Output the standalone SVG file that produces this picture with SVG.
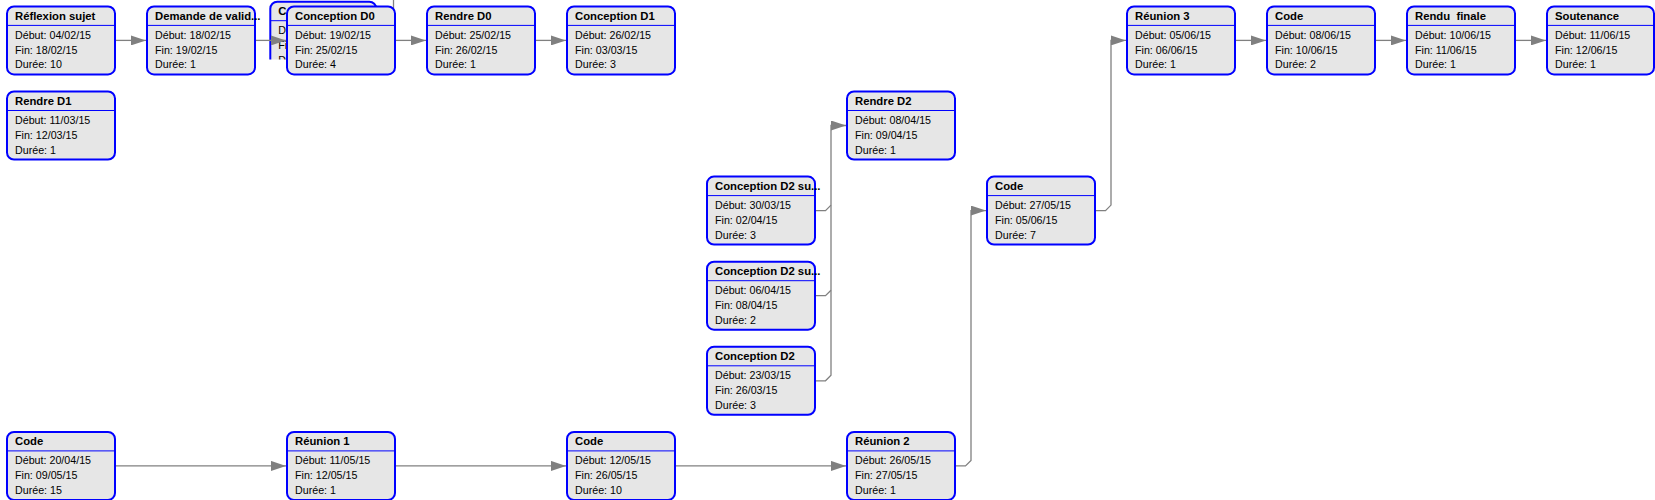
<svg xmlns="http://www.w3.org/2000/svg" width="1655" height="500" viewBox="0 0 1655 500">
<defs>
<style>
.box{fill:#e6e6e6;stroke:#0000ff;stroke-width:2}
.sep{stroke:#0000ff;stroke-width:1}
.t{font-family:"Liberation Sans",Arial,sans-serif;font-size:11.3px;font-weight:bold;fill:#000}
.b{font-family:"Liberation Sans",Arial,sans-serif;font-size:10.7px;fill:#000}
.c{fill:none;stroke:#808080;stroke-width:1.3}
.a{marker-end:url(#arr)}
</style>
<marker id="arr" markerUnits="userSpaceOnUse" markerWidth="15" markerHeight="10" refX="15" refY="5" orient="auto">
<path d="M0,0 L15,5 L0,10 z" fill="#808080"/>
</marker>
<clipPath id="hclip"><rect x="255" y="0" width="140" height="59.5"/></clipPath>
</defs>
<rect width="1655" height="500" fill="#ffffff"/>

<g id="node-hidden" clip-path="url(#hclip)">
<g transform="translate(269.3,0.7)">
<rect class="box" x="1" y="1" width="106" height="68" rx="7"/>
<line class="sep" x1="1" y1="20" x2="107" y2="20"/>
<text class="t" x="9" y="14.6">C</text>
<text class="b" x="9" y="33.4">D</text>
<text class="b" x="9" y="48.2">Fi</text>
<text class="b" x="9" y="63">D</text>
</g>
</g>

<g id="connectors">
<path class="c a" d="M116,40.4 H146"/>
<path class="c a" d="M256,40.4 H286"/>
<path class="c a" d="M396,40.4 H426"/>
<path class="c a" d="M536,40.4 H566"/>
<path class="c a" d="M1236,40.4 H1266"/>
<path class="c a" d="M1376,40.4 H1406"/>
<path class="c a" d="M1516,40.4 H1546"/>
<path class="c a" d="M116,465.9 H286"/>
<path class="c a" d="M396,465.9 H566"/>
<path class="c a" d="M676,465.9 H846"/>
<path class="c a" d="M956,465.9 H965.5 L971,460.4 V210.6 H986"/>
<path class="c a" d="M1096,210.6 H1105.5 L1111,205.1 V40.4 H1126"/>
<path class="c a" d="M816,380.8 H825.5 L831,375.3 V125.5 H846"/>
<path class="c" d="M816,210.6 H825.5 L831,205.1"/>
<path class="c" d="M816,295.7 H825.5 L831,290.2"/>
<path class="c" d="M393.5,0 V10"/>
</g>

<g id="n-reflexion" transform="translate(6,5.4)">
<rect class="box" x="1" y="1" width="108" height="68" rx="7"/>
<line class="sep" x1="1" y1="20" x2="109" y2="20"/>
<text class="t" x="9" y="14.6">Réflexion sujet</text>
<text class="b" x="9" y="33.4">Début: 04/02/15</text>
<text class="b" x="9" y="48.2">Fin: 18/02/15</text>
<text class="b" x="9" y="63">Durée: 10</text>
</g>
<g id="n-demande" transform="translate(146,5.4)">
<rect class="box" x="1" y="1" width="108" height="68" rx="7"/>
<line class="sep" x1="1" y1="20" x2="109" y2="20"/>
<text class="t" x="9" y="14.6">Demande de valid...</text>
<text class="b" x="9" y="33.4">Début: 18/02/15</text>
<text class="b" x="9" y="48.2">Fin: 19/02/15</text>
<text class="b" x="9" y="63">Durée: 1</text>
</g>
<g id="n-conception-d0" transform="translate(286,5.4)">
<rect class="box" x="1" y="1" width="108" height="68" rx="7"/>
<line class="sep" x1="1" y1="20" x2="109" y2="20"/>
<text class="t" x="9" y="14.6">Conception D0</text>
<text class="b" x="9" y="33.4">Début: 19/02/15</text>
<text class="b" x="9" y="48.2">Fin: 25/02/15</text>
<text class="b" x="9" y="63">Durée: 4</text>
</g>
<g id="n-rendre-d0" transform="translate(426,5.4)">
<rect class="box" x="1" y="1" width="108" height="68" rx="7"/>
<line class="sep" x1="1" y1="20" x2="109" y2="20"/>
<text class="t" x="9" y="14.6">Rendre D0</text>
<text class="b" x="9" y="33.4">Début: 25/02/15</text>
<text class="b" x="9" y="48.2">Fin: 26/02/15</text>
<text class="b" x="9" y="63">Durée: 1</text>
</g>
<g id="n-conception-d1" transform="translate(566,5.4)">
<rect class="box" x="1" y="1" width="108" height="68" rx="7"/>
<line class="sep" x1="1" y1="20" x2="109" y2="20"/>
<text class="t" x="9" y="14.6">Conception D1</text>
<text class="b" x="9" y="33.4">Début: 26/02/15</text>
<text class="b" x="9" y="48.2">Fin: 03/03/15</text>
<text class="b" x="9" y="63">Durée: 3</text>
</g>
<g id="n-reunion-3" transform="translate(1126,5.4)">
<rect class="box" x="1" y="1" width="108" height="68" rx="7"/>
<line class="sep" x1="1" y1="20" x2="109" y2="20"/>
<text class="t" x="9" y="14.6">Réunion 3</text>
<text class="b" x="9" y="33.4">Début: 05/06/15</text>
<text class="b" x="9" y="48.2">Fin: 06/06/15</text>
<text class="b" x="9" y="63">Durée: 1</text>
</g>
<g id="n-code-4" transform="translate(1266,5.4)">
<rect class="box" x="1" y="1" width="108" height="68" rx="7"/>
<line class="sep" x1="1" y1="20" x2="109" y2="20"/>
<text class="t" x="9" y="14.6">Code</text>
<text class="b" x="9" y="33.4">Début: 08/06/15</text>
<text class="b" x="9" y="48.2">Fin: 10/06/15</text>
<text class="b" x="9" y="63">Durée: 2</text>
</g>
<g id="n-rendu-finale" transform="translate(1406,5.4)">
<rect class="box" x="1" y="1" width="108" height="68" rx="7"/>
<line class="sep" x1="1" y1="20" x2="109" y2="20"/>
<text class="t" x="9" y="14.6" xml:space="preserve">Rendu  finale</text>
<text class="b" x="9" y="33.4">Début: 10/06/15</text>
<text class="b" x="9" y="48.2">Fin: 11/06/15</text>
<text class="b" x="9" y="63">Durée: 1</text>
</g>
<g id="n-soutenance" transform="translate(1546,5.4)">
<rect class="box" x="1" y="1" width="107" height="68" rx="7"/>
<line class="sep" x1="1" y1="20" x2="108" y2="20"/>
<text class="t" x="9" y="14.6">Soutenance</text>
<text class="b" x="9" y="33.4">Début: 11/06/15</text>
<text class="b" x="9" y="48.2">Fin: 12/06/15</text>
<text class="b" x="9" y="63">Durée: 1</text>
</g>

<g id="n-rendre-d1" transform="translate(6,90.5)">
<rect class="box" x="1" y="1" width="108" height="68" rx="7"/>
<line class="sep" x1="1" y1="20" x2="109" y2="20"/>
<text class="t" x="9" y="14.6">Rendre D1</text>
<text class="b" x="9" y="33.4">Début: 11/03/15</text>
<text class="b" x="9" y="48.2">Fin: 12/03/15</text>
<text class="b" x="9" y="63">Durée: 1</text>
</g>
<g id="n-rendre-d2" transform="translate(846,90.5)">
<rect class="box" x="1" y="1" width="108" height="68" rx="7"/>
<line class="sep" x1="1" y1="20" x2="109" y2="20"/>
<text class="t" x="9" y="14.6">Rendre D2</text>
<text class="b" x="9" y="33.4">Début: 08/04/15</text>
<text class="b" x="9" y="48.2">Fin: 09/04/15</text>
<text class="b" x="9" y="63">Durée: 1</text>
</g>

<g id="n-conception-d2-su-1" transform="translate(706,175.6)">
<rect class="box" x="1" y="1" width="108" height="68" rx="7"/>
<line class="sep" x1="1" y1="20" x2="109" y2="20"/>
<text class="t" x="9" y="14.6">Conception D2 su...</text>
<text class="b" x="9" y="33.4">Début: 30/03/15</text>
<text class="b" x="9" y="48.2">Fin: 02/04/15</text>
<text class="b" x="9" y="63">Durée: 3</text>
</g>
<g id="n-code-3" transform="translate(986,175.6)">
<rect class="box" x="1" y="1" width="108" height="68" rx="7"/>
<line class="sep" x1="1" y1="20" x2="109" y2="20"/>
<text class="t" x="9" y="14.6">Code</text>
<text class="b" x="9" y="33.4">Début: 27/05/15</text>
<text class="b" x="9" y="48.2">Fin: 05/06/15</text>
<text class="b" x="9" y="63">Durée: 7</text>
</g>

<g id="n-conception-d2-su-2" transform="translate(706,260.7)">
<rect class="box" x="1" y="1" width="108" height="68" rx="7"/>
<line class="sep" x1="1" y1="20" x2="109" y2="20"/>
<text class="t" x="9" y="14.6">Conception D2 su...</text>
<text class="b" x="9" y="33.4">Début: 06/04/15</text>
<text class="b" x="9" y="48.2">Fin: 08/04/15</text>
<text class="b" x="9" y="63">Durée: 2</text>
</g>

<g id="n-conception-d2" transform="translate(706,345.8)">
<rect class="box" x="1" y="1" width="108" height="68" rx="7"/>
<line class="sep" x1="1" y1="20" x2="109" y2="20"/>
<text class="t" x="9" y="14.6">Conception D2</text>
<text class="b" x="9" y="33.4">Début: 23/03/15</text>
<text class="b" x="9" y="48.2">Fin: 26/03/15</text>
<text class="b" x="9" y="63">Durée: 3</text>
</g>

<g id="n-code-1" transform="translate(6,430.9)">
<rect class="box" x="1" y="1" width="108" height="68" rx="7"/>
<line class="sep" x1="1" y1="20" x2="109" y2="20"/>
<text class="t" x="9" y="14.6">Code</text>
<text class="b" x="9" y="33.4">Début: 20/04/15</text>
<text class="b" x="9" y="48.2">Fin: 09/05/15</text>
<text class="b" x="9" y="63">Durée: 15</text>
</g>
<g id="n-reunion-1" transform="translate(286,430.9)">
<rect class="box" x="1" y="1" width="108" height="68" rx="7"/>
<line class="sep" x1="1" y1="20" x2="109" y2="20"/>
<text class="t" x="9" y="14.6">Réunion 1</text>
<text class="b" x="9" y="33.4">Début: 11/05/15</text>
<text class="b" x="9" y="48.2">Fin: 12/05/15</text>
<text class="b" x="9" y="63">Durée: 1</text>
</g>
<g id="n-code-2" transform="translate(566,430.9)">
<rect class="box" x="1" y="1" width="108" height="68" rx="7"/>
<line class="sep" x1="1" y1="20" x2="109" y2="20"/>
<text class="t" x="9" y="14.6">Code</text>
<text class="b" x="9" y="33.4">Début: 12/05/15</text>
<text class="b" x="9" y="48.2">Fin: 26/05/15</text>
<text class="b" x="9" y="63">Durée: 10</text>
</g>
<g id="n-reunion-2" transform="translate(846,430.9)">
<rect class="box" x="1" y="1" width="108" height="68" rx="7"/>
<line class="sep" x1="1" y1="20" x2="109" y2="20"/>
<text class="t" x="9" y="14.6">Réunion 2</text>
<text class="b" x="9" y="33.4">Début: 26/05/15</text>
<text class="b" x="9" y="48.2">Fin: 27/05/15</text>
<text class="b" x="9" y="63">Durée: 1</text>
</g>
</svg>
